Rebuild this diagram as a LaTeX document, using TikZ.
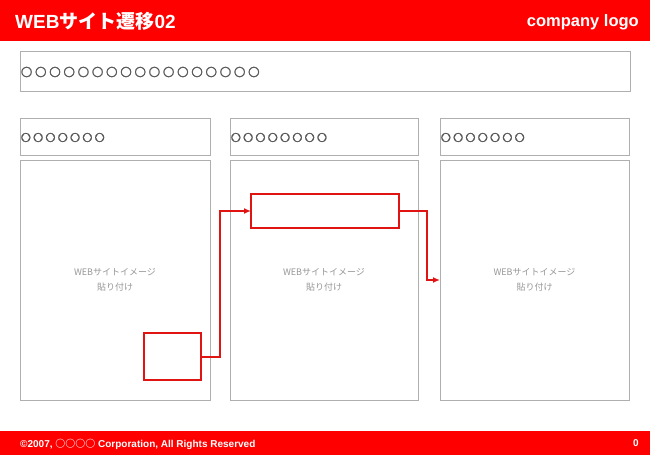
\documentclass[tikz,border=0pt]{standalone}
\usepackage{fontspec}
\setmainfont{Liberation Sans}
\newfontfamily\cjk{Noto Sans CJK JP}
\newfontfamily\circfont[FakeBold=1.5]{DejaVu Sans}
\usetikzlibrary{arrows.meta}
\definecolor{hdrred}{RGB}{255,0,0}
\definecolor{boxgray}{RGB}{175,175,175}
\definecolor{circgray}{RGB}{85,85,85}
\definecolor{lblgray}{RGB}{150,150,150}
\definecolor{arrred}{RGB}{225,20,20}
\newcommand\bigc{\makebox[14.2pt][l]{○}}
\newcommand\smallc{\makebox[12.3pt][l]{○}}
\tikzset{
  graybox/.style={draw=boxgray, line width=1pt, inner sep=0pt, outer sep=0pt},
  redbox/.style={draw=arrred, line width=2pt, inner sep=0pt, outer sep=0pt},
  arr/.style={draw=arrred, line width=2pt, -{Latex[length=7pt,width=6pt]}},
  circtxt/.style={anchor=west, text=circgray, inner sep=0pt},
  lbl/.style={text=lblgray, font=\cjk\fontsize{9}{15}\selectfont, align=center, inner sep=0pt},
}
\begin{document}
\begin{tikzpicture}[x=1pt, y=-1pt]
\useasboundingbox (0,0) rectangle (650,455);
% header / footer
\fill[hdrred] (0,0) rectangle (650,41);
\fill[hdrred] (0,431) rectangle (650,455);
\node[anchor=west, text=white, inner sep=0pt] (title) at (15,21)
  {\fontsize{19}{21}\selectfont\bfseries WEB{\cjk\bfseries サイト遷移}02};
\node[anchor=east, text=white, inner sep=0pt] (logo) at (639,22)
  {\fontsize{16.5}{18}\selectfont\bfseries company logo};
\node[anchor=west, text=white, inner sep=0pt] (copy) at (20,444)
  {\fontsize{10}{11}\selectfont\bfseries ©2007, {\cjk\bfseries ○○○○} Corporation, All Rights Reserved};
\node[anchor=east, text=white, inner sep=0pt] (pg) at (639,443)
  {\fontsize{10}{11}\selectfont\bfseries 0};
% top box
\node[graybox, minimum width=610pt, minimum height=40pt] (top) at (325,71) {};
\node[circtxt] (topc) at (20.5,72) {\circfont\fontsize{13.5}{15}\selectfont
  \bigc\bigc\bigc\bigc\bigc\bigc\bigc\bigc\bigc\bigc\bigc\bigc\bigc\bigc\bigc\bigc\bigc};
% row boxes
\node[graybox, minimum width=190pt, minimum height=37pt] (r1) at (115,136.5) {};
\node[graybox, minimum width=188pt, minimum height=37pt] (r2) at (324,136.5) {};
\node[graybox, minimum width=189pt, minimum height=37pt] (r3) at (534.5,136.5) {};
\node[circtxt] (c1) at (20.5,137.5) {\circfont\fontsize{11.8}{13}\selectfont
  \smallc\smallc\smallc\smallc\smallc\smallc\smallc};
\node[circtxt] (c2) at (230.5,137.5) {\circfont\fontsize{11.8}{13}\selectfont
  \smallc\smallc\smallc\smallc\smallc\smallc\smallc\smallc};
\node[circtxt] (c3) at (440.5,137.5) {\circfont\fontsize{11.8}{13}\selectfont
  \smallc\smallc\smallc\smallc\smallc\smallc\smallc};
% tall boxes
\node[graybox, minimum width=190pt, minimum height=240pt] (t1) at (115,280) {};
\node[graybox, minimum width=188pt, minimum height=240pt] (t2) at (324,280) {};
\node[graybox, minimum width=189pt, minimum height=240pt] (t3) at (534.5,280) {};
\node[lbl] (l1) at (115,279.5) {WEBサイトイメージ\\貼り付け};
\node[lbl] (l2) at (324,279.5) {WEBサイトイメージ\\貼り付け};
\node[lbl] (l3) at (534.5,279.5) {WEBサイトイメージ\\貼り付け};
% red boxes
\node[redbox, minimum width=57pt, minimum height=47pt] (s) at (172.5,356.5) {};
\node[redbox, minimum width=148pt, minimum height=34pt] (w) at (325,211) {};
\coordinate (j1) at (220,0);
\coordinate (j2) at (427,280);
\draw[arr] (s.east) -- (s.east -| j1) |- (w.west);
\draw[arr] (w.east) -| (j2) -- (j2 -| t3.west);
\end{tikzpicture}
\end{document}
